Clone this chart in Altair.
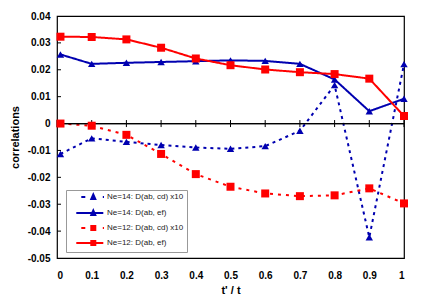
import altair as alt
import pandas as pd

# ---- data ----
t_vals = [0.01, 0.1, 0.2, 0.3, 0.4, 0.5, 0.6, 0.7, 0.8, 0.9, 1.0]
ne14_cd = [-0.0113, -0.0055, -0.0068, -0.0080, -0.0089, -0.0094, -0.0084, -0.0027, 0.0143, -0.0423, 0.0221]
ne14_ef = [0.0257, 0.0222, 0.0226, 0.0229, 0.0232, 0.0235, 0.0233, 0.0222, 0.0164, 0.0046, 0.0092]
ne12_cd = [0.0000, -0.0008, -0.0042, -0.0113, -0.0188, -0.0235, -0.0260, -0.0270, -0.0267, -0.0241, -0.0297]
ne12_ef = [0.0323, 0.0322, 0.0313, 0.0282, 0.0242, 0.0217, 0.0201, 0.0191, 0.0184, 0.0167, 0.0028]

series_names = ["Ne=14: D(ab, cd) x10", "Ne=14: D(ab, ef)", "Ne=12: D(ab, cd) x10", "Ne=12: D(ab, ef)"]
x_ticks = [0, 0.1, 0.2, 0.3, 0.4, 0.5, 0.6, 0.7, 0.8, 0.9, 1]
y_ticks = [-0.05, -0.04, -0.03, -0.02, -0.01, 0, 0.01, 0.02, 0.03, 0.04]

BLUE = "#0000B0"
RED = "#FF0000"
colors = [BLUE, BLUE, RED, RED]
dashes = [[3, 4], [1, 0], [3, 5], [1, 0]]

legend_paths = [
    "M4.15,0H6.15M9.15,1L10.15,-1.3L11.15,1ZM14.9,0H15.5",
    "M1.65,0H15.15M9.15,1L10.15,-1.3L11.15,1Z",
    "M4.15,0H6.15M9.15,-1H11.15V1H9.15ZM14.9,0H15.5",
    "M1.65,0H15.15M9.15,-1H11.15V1H9.15Z",
]

rows = []
for name, vals in zip(series_names, [ne14_cd, ne14_ef, ne12_cd, ne12_ef]):
    for t, v in zip(t_vals, vals):
        rows.append({"t": t, "v": v, "series": name})
df = pd.DataFrame(rows)
df_xt = pd.DataFrame({"t": x_ticks, "v": [0] * len(x_ticks)})
df_yt = pd.DataFrame({"v": y_ticks[1:-1]})

FONT = "Liberation Sans"

x_scale = alt.Scale(domain=[0, 1], nice=False)
y_scale = alt.Scale(domain=[-0.05, 0.04], nice=False)

x_axis = alt.Axis(values=x_ticks, title="t' / t",
                  labelExpr="format(datum.value, '~g')", labelPadding=12, titlePadding=4)
y_axis = alt.Axis(values=y_ticks, title="correlations",
                  labelExpr="datum.value < 0 ? '-' + format(-datum.value, '~g') : format(datum.value, '~g')",
                  labelPadding=7, titlePadding=7)
x_enc = alt.X("t:Q", scale=x_scale, axis=x_axis)
y_enc = alt.Y("v:Q", scale=y_scale, axis=y_axis)

layers = []
for name, col, dash in zip(series_names, colors, dashes):
    layers.append(
        alt.Chart(df).transform_filter(alt.FieldEqualPredicate(field="series", equal=name))
        .mark_line(strokeWidth=2, color=col, strokeDash=dash)
        .encode(x=x_enc, y=y_enc)
    )

zero_line = alt.Chart(df_xt).mark_rule(color="black", strokeWidth=1).encode(y=y_enc)
x_cross = alt.Chart(df_xt).mark_rule(color="black", strokeWidth=1, yOffset=-3.5, y2Offset=3.5).encode(
    x=x_enc, y=y_enc, y2="v:Q")
y_in = alt.Chart(df_yt).mark_rule(color="black", strokeWidth=1).encode(
    y=y_enc, x=alt.value(0), x2=alt.value(4))
tris = alt.Chart(df).transform_filter(alt.FieldOneOfPredicate(field="series", oneOf=series_names[:2])).mark_point(
    shape="triangle-up", filled=True, size=55, opacity=1, color=BLUE).encode(x=x_enc, y=y_enc)
squares = alt.Chart(df).transform_filter(alt.FieldOneOfPredicate(field="series", oneOf=series_names[2:])).mark_point(
    shape="square", filled=True, size=64, opacity=1, color=RED).encode(x=x_enc, y=y_enc)

leg = alt.Legend(orient="none", legendX=9, legendY=174)
legend_layer = alt.Chart(df).transform_filter("datum.t > 5").mark_point(size=16, strokeWidth=2, opacity=1).encode(
    x=x_enc, y=y_enc,
    fill=alt.Fill("series:N", scale=alt.Scale(domain=series_names, range=colors), legend=leg, title=""),
    stroke=alt.Stroke("series:N", scale=alt.Scale(domain=series_names, range=colors), legend=leg, title=""),
    shape=alt.Shape("series:N", scale=alt.Scale(domain=series_names, range=legend_paths), legend=leg, title=""),
)

chart = alt.layer(*layers, zero_line, x_cross, y_in, tris, squares, legend_layer).properties(
    width=347, height=242,
    autosize=alt.AutoSizeParams(type="none"),
    padding={"left": 49, "top": 8, "right": 8, "bottom": 38},
).configure_view(stroke="black", strokeWidth=1.2).configure_axis(
    grid=False, domain=False, ticks=False, tickSize=0, labelOverlap=False,
    labelFont=FONT, labelFontSize=10, labelFontWeight="bold", labelColor="black",
    titleFont=FONT, titleFontSize=11, titleFontWeight="bold", titleColor="black",
).configure_legend(
    fillColor="white", strokeColor="#999999", padding=3, labelFont=FONT, labelFontSize=8,
    labelColor="#222222", labelOffset=30, symbolSize=16, symbolStrokeWidth=2,
    rowPadding=3, symbolOpacity=1,
)

chart.save("out.html", embed_options={"renderer": "svg", "actions": False})
